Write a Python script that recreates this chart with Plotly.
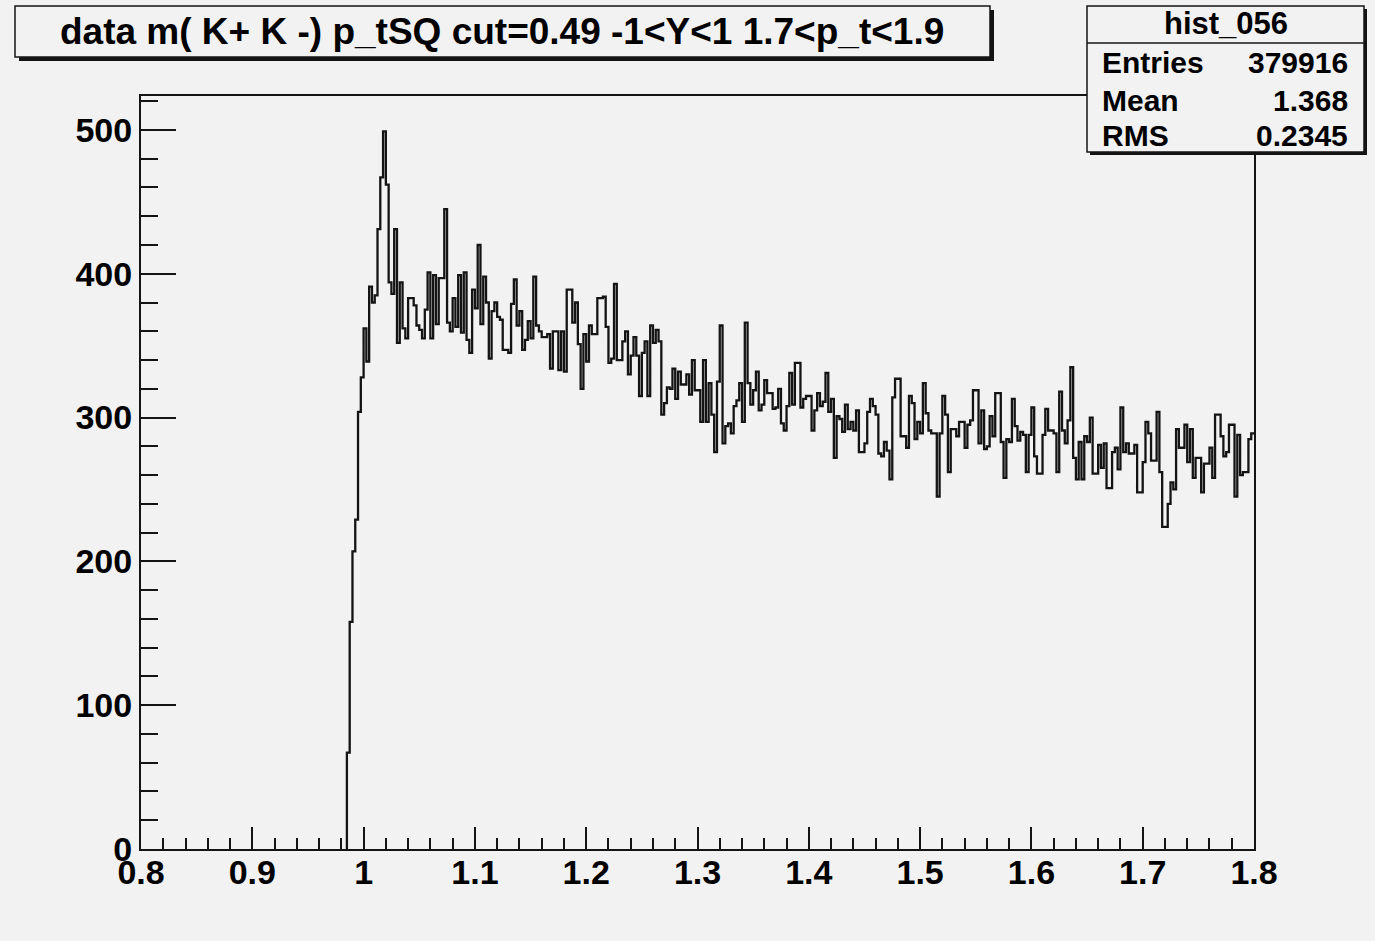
import numpy as np
import plotly.graph_objects as go

# ---------------- data ----------------
title_text = "data m( K+ K -) p_tSQ cut=0.49 -1&lt;Y&lt;1 1.7&lt;p_t&lt;1.9"
hist_name = "hist_056"
stat_labels = ["Entries", "Mean", "RMS"]
stat_values = ["379916", "1.368", "0.2345"]

bin_start = 0.985
bin_width = 0.0025
x_end = 1.8

counts = [
    67, 158, 207, 229, 304, 328, 362, 339, 391, 380, 385, 431, 467, 499, 462, 394,
    386, 431, 352, 394, 362, 355, 383, 383, 378, 364, 361, 355, 375, 401, 355, 399,
    365, 397, 397, 445, 366, 360, 383, 363, 399, 359, 401, 354, 345, 389, 376, 420,
    365, 398, 380, 341, 374, 380, 370, 368, 347, 347, 345, 379, 396, 364, 374, 347,
    354, 367, 355, 398, 364, 360, 356, 356, 358, 334, 360, 360, 333, 360, 332, 389,
    389, 366, 380, 351, 320, 358, 339, 364, 358, 358, 383, 383, 384, 363, 338, 341,
    393, 340,
    340, 353, 360, 330, 343, 356, 343, 315, 345, 353, 315, 364, 352, 361, 353, 302,
    310, 321, 320, 334, 313, 332, 323, 323, 330, 316, 340, 319, 319, 297, 340, 297,
    324, 302, 276, 325, 364, 282, 294, 296, 289, 308, 312, 324, 297, 366, 324, 309,
    319, 332,
    305, 309, 326, 317, 317, 306, 307, 320, 296, 291, 308, 331, 309, 338, 338, 307,
    313, 315, 315, 291, 305, 317, 308, 311, 331, 304, 313, 272, 301, 299, 290, 309,
    292, 297, 291, 305, 276, 276, 282, 304, 313, 308, 302, 275, 273, 283, 277, 257,
    314, 327, 327,
    287, 287, 279, 315, 310, 285, 297, 289, 324, 303, 291, 289, 289, 245, 289, 315,
    302, 262, 292, 292, 287, 297, 297, 279, 295, 298, 319, 319, 282, 305, 278, 280,
    301, 287, 317, 317, 283, 258, 285, 283, 313, 294, 284, 290, 288, 262, 288, 307,
    273, 261,
    261, 288, 306, 291, 291, 289, 262, 318, 291, 282, 298, 335, 272, 257, 283, 257,
    287, 283, 300, 261, 261, 281, 265, 282, 251, 251, 276, 279, 264, 307, 276, 282,
    275, 275, 281, 248, 248, 269, 297, 289, 270, 270, 304, 262, 224, 224, 240,
    255, 250, 292, 279, 279, 295, 269, 292, 258, 272, 272, 248, 268, 268, 279, 258,
    302, 302, 287, 273, 276, 295, 295, 245, 288, 260, 262, 262, 285, 289,
]

x_tickvals = [0.8, 0.9, 1.0, 1.1, 1.2, 1.3, 1.4, 1.5, 1.6, 1.7, 1.8]
x_ticktext = ["0.8", "0.9", "1", "1.1", "1.2", "1.3", "1.4", "1.5", "1.6", "1.7", "1.8"]
y_tickvals = [0, 100, 200, 300, 400, 500]
y_ticktext = ["0", "100", "200", "300", "400", "500"]

# ---------------- layout constants ----------------
W, H = 1375, 941
PL, PR, PT, PB = 141, 1254, 96, 849
BG = "#f2f2f2"
INK = "#141414"
FONT = "Liberation Sans"


def px(x):
    return (x - PL) / (PR - PL)


def py(y):
    return (PB - y) / (PB - PT)


n = len(counts)
edges = bin_start + bin_width * np.arange(n)
xs = np.concatenate([[edges[0]], edges, [x_end]])
ys = np.concatenate([[0], counts, [counts[-1]]])

fig = go.Figure()
fig.add_trace(go.Scatter(x=xs, y=ys, mode="lines",
                         line=dict(shape="hv", color=INK, width=2.3),
                         hoverinfo="skip", showlegend=False))

tickfont = dict(family=FONT, size=34, color="black", weight="bold")

fig.update_layout(
    width=W, height=H,
    margin=dict(l=PL, r=W - PR, t=PT, b=H - PB, pad=0),
    paper_bgcolor=BG, plot_bgcolor=BG,
    showlegend=False,
    xaxis=dict(range=[0.8, 1.8], tickmode="array", tickvals=x_tickvals, ticktext=x_ticktext,
               ticks="inside", ticklen=22, tickwidth=2, tickcolor=INK,
               showline=True, linewidth=2, linecolor=INK, mirror=True,
               showgrid=False, zeroline=False, tickfont=tickfont,
               ticklabelstandoff=-8,
               minor=dict(tick0=0.8, dtick=0.02, ticks="inside", ticklen=11,
                          tickwidth=2, tickcolor=INK, showgrid=False)),
    yaxis=dict(range=[0, 523.6], tickmode="array", tickvals=y_tickvals, ticktext=y_ticktext,
               ticks="inside", ticklen=35, tickwidth=2, tickcolor=INK,
               showline=True, linewidth=2, linecolor=INK, mirror=True,
               showgrid=False, zeroline=False, tickfont=tickfont,
               minor=dict(tick0=0, dtick=20, ticks="inside", ticklen=17,
                          tickwidth=2, tickcolor=INK, showgrid=False)),
)

shapes = []


def pave(x0, y0, x1, y1, shadow=4):
    shapes.append(dict(type="rect", xref="paper", yref="paper", layer="above",
                       x0=px(x0 + shadow), x1=px(x1 + shadow), y0=py(y0 + shadow), y1=py(y1 + shadow),
                       fillcolor=INK, line=dict(width=0)))
    shapes.append(dict(type="rect", xref="paper", yref="paper", layer="above",
                       x0=px(x0), x1=px(x1), y0=py(y0), y1=py(y1),
                       fillcolor=BG, line=dict(color=INK, width=1.5)))


# title pave
pave(15, 6, 990, 57)
# stats pave
pave(1087, 6, 1364, 152, shadow=3)
shapes.append(dict(type="line", xref="paper", yref="paper", layer="above",
                   x0=px(1087), x1=px(1364), y0=py(43), y1=py(43),
                   line=dict(color=INK, width=1.5)))
fig.update_layout(shapes=shapes)

ann = []
ann.append(dict(text=title_text, xref="paper", yref="paper", x=px(502), y=py(31),
                xanchor="center", yanchor="middle", showarrow=False,
                font=dict(family=FONT, size=37, color="black", weight="bold")))
ann.append(dict(text=hist_name, xref="paper", yref="paper", x=px(1226), y=py(23),
                xanchor="center", yanchor="middle", showarrow=False,
                font=dict(family=FONT, size=31, color="black", weight="bold")))
row_y = [62, 100, 136]
for lab, val, yy in zip(stat_labels, stat_values, row_y):
    ann.append(dict(text=lab, xref="paper", yref="paper", x=px(1100), y=py(yy),
                    xanchor="left", yanchor="middle", showarrow=False,
                    font=dict(family=FONT, size=30, color="black", weight="bold")))
    ann.append(dict(text=val, xref="paper", yref="paper", x=px(1350), y=py(yy),
                    xanchor="right", yanchor="middle", showarrow=False,
                    font=dict(family=FONT, size=30, color="black", weight="bold")))
fig.update_layout(annotations=ann)

fig.write_html("out.html")
